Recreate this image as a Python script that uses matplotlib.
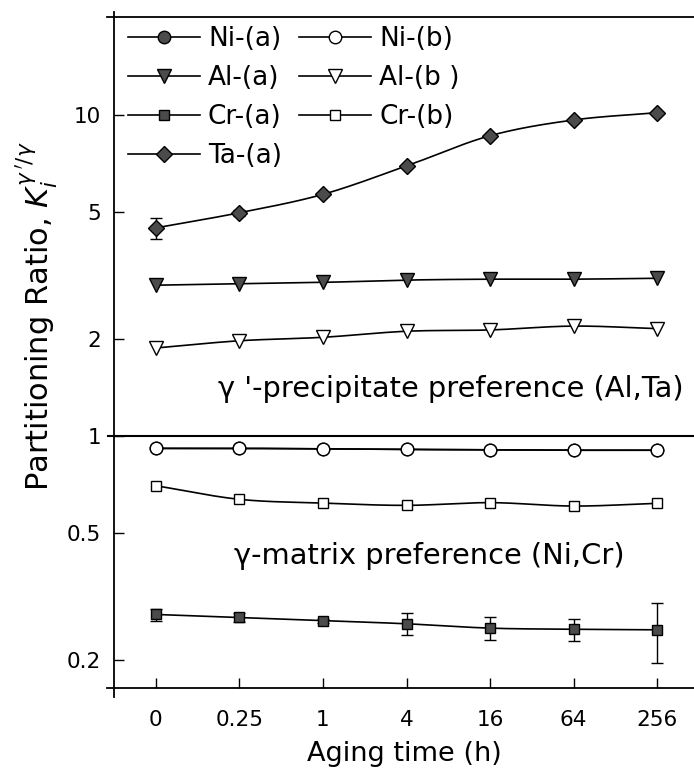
import numpy as np
import matplotlib
matplotlib.use("Agg")
import matplotlib.pyplot as plt

# aging times (categorical x positions)
times = ["0", "0.25", "1", "4", "16", "64", "256"]

# partitioning ratios K_i (gamma'/gamma)
ni_a = [0.915, 0.915, 0.912, 0.908, 0.906, 0.903, 0.903]
ni_b = [0.915, 0.915, 0.912, 0.908, 0.906, 0.903, 0.903]
al_a = [2.95, 2.98, 3.01, 3.06, 3.08, 3.08, 3.10]
al_b = [1.88, 1.98, 2.03, 2.12, 2.14, 2.20, 2.16]
cr_a = [0.278, 0.272, 0.266, 0.260, 0.252, 0.250, 0.249]
cr_a_err = [0.012, 0.008, 0.004, 0.020, 0.020, 0.020, 0.053]
cr_b = [0.700, 0.635, 0.618, 0.608, 0.620, 0.605, 0.617]
ta_a = [4.45, 4.96, 5.66, 6.94, 8.62, 9.65, 10.17]
ta_a_err = [0.34, 0.10, 0.05, 0.05, 0.05, 0.05, 0.05]

yticks = [0.2, 0.5, 1, 2, 5, 10]

FILL = "#4b4b4b"


def smooth(x, y, n=30):
    """Cubic Hermite curve through the points, in log-y space."""
    x = np.asarray(x, float)
    ly = np.log10(y)
    m = np.gradient(ly, x)
    xs, ys = [], []
    for i in range(len(x) - 1):
        h = x[i + 1] - x[i]
        t = np.linspace(0, 1, n)
        h00 = 2 * t**3 - 3 * t**2 + 1
        h10 = t**3 - 2 * t**2 + t
        h01 = -2 * t**3 + 3 * t**2
        h11 = t**3 - t**2
        xs.append(x[i] + t * h)
        ys.append(h00 * ly[i] + h10 * h * m[i] + h01 * ly[i + 1] + h11 * h * m[i + 1])
    return np.concatenate(xs), 10 ** np.concatenate(ys)


fig = plt.figure(figsize=(6.94, 7.69), dpi=100)
ax = fig.add_axes([0.1643, 0.1053, 0.8357, 0.8726])

x = np.arange(len(times))

series = [
    ("Ni-(a)", ni_a, "o", FILL, 9, None),
    ("Al-(a)", al_a, "v", FILL, 9.4, None),
    ("Cr-(a)", cr_a, "s", FILL, 7, cr_a_err),
    ("Ta-(a)", ta_a, "D", FILL, 7.8, ta_a_err),
    ("Ni-(b)", ni_b, "o", "white", 9, None),
    ("Al-(b )", al_b, "v", "white", 9.4, None),
    ("Cr-(b)", cr_b, "s", "white", 6.8, None),
]

handles = []
for label, vals, mk, fc, ms, err in series:
    sx, sy = smooth(x, vals)
    ax.plot(sx, sy, color="black", lw=1.2, zorder=2)
    if err is not None:
        ax.errorbar(x, vals, yerr=err, fmt="none", ecolor="black",
                    elinewidth=1.0, capsize=4, capthick=1.0, zorder=2)
    ax.plot(x, vals, ls="none", marker=mk, ms=ms, mfc=fc, mec="black",
            mew=1.0, zorder=3)
    h, = ax.plot([], [], color="black", lw=1.2, marker=mk, ms=ms, mfc=fc,
                 mec="black", mew=1.0, label=label)
    handles.append(h)

# K = 1 separator, running a little past the left axis line
ax.plot([-0.01, 1], [1, 1], color="black", lw=1.5, zorder=1,
        transform=ax.get_yaxis_transform(), clip_on=False)

ax.set_yscale("log")
ax.set_ylim(0.164, 20.2)
ax.set_xlim(-0.5, 6.44)
ax.set_yticks(yticks)
ax.set_yticklabels([f"{v:g}" for v in yticks])
ax.yaxis.set_minor_locator(matplotlib.ticker.NullLocator())
ax.set_xticks(x)
ax.set_xticklabels(times)
ax.tick_params(direction="in", length=7, width=1.0, labelsize=15.5)
ax.tick_params(axis="x", pad=16)
ax.tick_params(axis="y", pad=9.5)

ax.set_xlabel("Aging time (h)", fontsize=19.5, labelpad=7.5)
ax.set_ylabel(r"Partitioning Ratio, $K_i^{\gamma\,'/\gamma}$", fontsize=22)
ax.yaxis.set_label_coords(-0.094, 0.554)

# axis frame: left, top and bottom lines, slightly overshooting the corners
for s in ax.spines.values():
    s.set_visible(False)
kw = dict(color="black", lw=1.3, transform=ax.transAxes, clip_on=False)
ax.plot([0, 0], [-0.013, 1.007], **kw)
ax.plot([-0.012, 1], [0, 0], **kw)
ax.plot([-0.012, 1], [1, 1], **kw)

ax.text(0.75, 1.40, "γ '-precipitate preference (Al,Ta)", fontsize=20.8,
        ha="left", va="center")
ax.text(0.93, 0.423, "γ-matrix preference (Ni,Cr)", fontsize=20.8,
        ha="left", va="center")

ax.legend(handles=handles, ncol=2, loc="upper left",
          bbox_to_anchor=(0.024, 0.9865), frameon=False, fontsize=19,
          handlelength=2.73, handletextpad=0.3, columnspacing=0.65,
          labelspacing=0.49, borderpad=0.0, borderaxespad=0.0)

fig.savefig("out.png", dpi=100)
